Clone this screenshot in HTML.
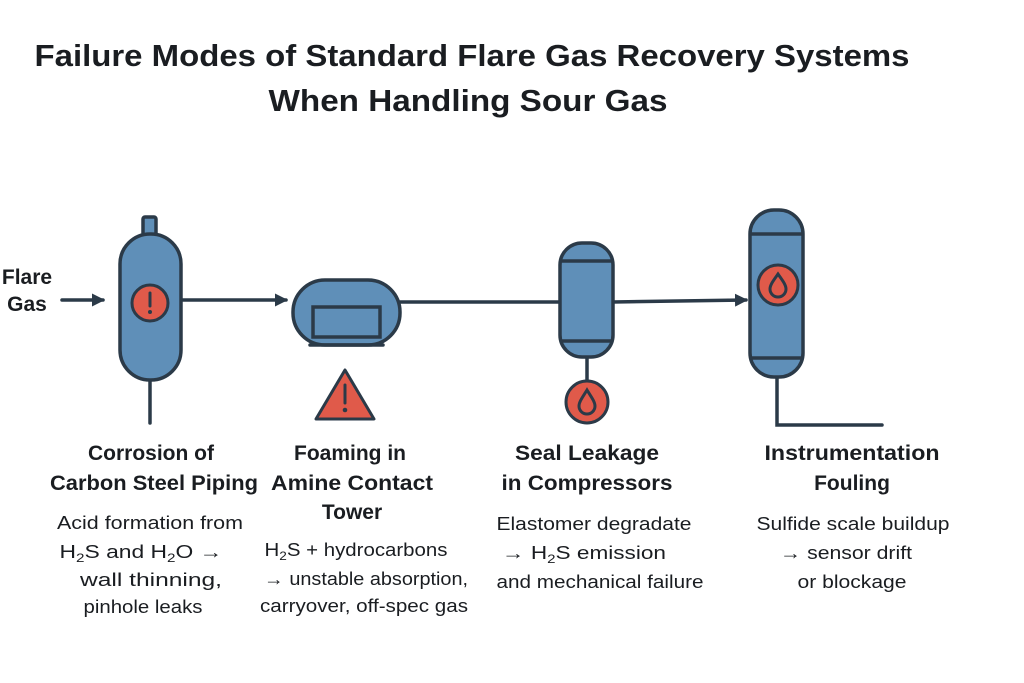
<!DOCTYPE html>
<html><head><meta charset="utf-8"><style>
html,body{margin:0;padding:0;background:#fff;}
svg{display:block;}
text{font-family:"Liberation Sans",sans-serif;fill:#1a1d21;}
.t{font-size:31px;font-weight:bold;}
.l{font-size:21px;font-weight:bold;}
.d{font-size:18px;}
</style></head><body>
<svg width="1024" height="683" viewBox="0 0 1024 683" xmlns="http://www.w3.org/2000/svg">
<defs>
<marker id="ah" markerWidth="13" markerHeight="13" refX="11" refY="6.5" orient="auto" markerUnits="userSpaceOnUse">
<path d="M0,0 L13,6.5 L0,13 Z" fill="#2b3a48"/></marker>
</defs>
<text class="t" x="472" y="66" text-anchor="middle" textLength="875" lengthAdjust="spacingAndGlyphs">Failure Modes of Standard Flare Gas Recovery Systems</text>
<text class="t" x="468" y="111" text-anchor="middle" textLength="399" lengthAdjust="spacingAndGlyphs">When Handling Sour Gas</text>

<g stroke="#2b3a48" stroke-width="3.5" fill="none" stroke-linecap="round">
<line x1="62" y1="300" x2="103" y2="300" marker-end="url(#ah)"/>
<line x1="181" y1="300" x2="286" y2="300" marker-end="url(#ah)"/>
<line x1="400" y1="302" x2="560" y2="302"/>
<line x1="613" y1="302" x2="746" y2="300" marker-end="url(#ah)"/>
<line x1="150" y1="380" x2="150" y2="423"/>
<line x1="587" y1="357" x2="587" y2="381"/>
<polyline points="777,377 777,425 882,425"/>
</g>

<g stroke="#2b3a48" stroke-width="3.5" fill="#5f8fb8">
<rect x="143" y="217" width="13" height="18" rx="2"/>
<rect x="120" y="234" width="61" height="146" rx="30"/>
<rect x="293" y="280" width="107" height="65" rx="32"/>
<rect x="313" y="307" width="67" height="30"/>
<rect x="560" y="243" width="53" height="114" rx="22"/>
<rect x="750" y="210" width="53" height="167" rx="24"/>
</g>
<g stroke="#2b3a48" stroke-width="3.5">
<line x1="310" y1="345" x2="383" y2="345" stroke-linecap="round"/>
<line x1="561" y1="261" x2="612" y2="261"/>
<line x1="561" y1="341" x2="612" y2="341"/>
<line x1="751" y1="234" x2="802" y2="234"/>
<line x1="751" y1="358" x2="802" y2="358"/>
</g>

<g stroke="#2b3a48" stroke-width="3" fill="#e05a4a">
<circle cx="150" cy="303" r="18"/>
<circle cx="587" cy="402" r="21"/>
<circle cx="778" cy="285" r="20"/>
<path d="M345,370 L374,419 L316,419 Z" stroke-linejoin="round"/>
</g>
<g stroke="#2b3a48" stroke-width="3" fill="none" stroke-linecap="round">
<line x1="150" y1="293" x2="150" y2="306"/>
<line x1="345" y1="385" x2="345" y2="403"/>
<path d="M587,390 C582,398 579,402 579,406 A8,8 0 0 0 595,406 C595,402 592,398 587,390 Z"/>
<path d="M778,274 C773,281 770,285 770,289 A8,8 0 0 0 786,289 C786,285 783,281 778,274 Z"/>
</g>
<circle cx="150" cy="312" r="2" fill="#2b3a48"/>
<circle cx="345" cy="410" r="2.3" fill="#2b3a48"/>

<text class="l" x="27" y="284" text-anchor="middle">Flare</text>
<text class="l" x="27" y="311" text-anchor="middle">Gas</text>

<g text-anchor="middle">
<text class="l" x="151" y="460">Corrosion of</text>
<text class="l" x="154" y="490" textLength="208" lengthAdjust="spacingAndGlyphs">Carbon Steel Piping</text>
<text class="d" x="150" y="529" textLength="186" lengthAdjust="spacingAndGlyphs">Acid formation from</text>
<text class="d" x="141" y="558" textLength="163" lengthAdjust="spacingAndGlyphs">H<tspan font-size="12" dy="4">2</tspan><tspan dy="-4">S and H</tspan><tspan font-size="12" dy="4">2</tspan><tspan dy="-4">O →</tspan></text>
<text class="d" x="151" y="586" textLength="142" lengthAdjust="spacingAndGlyphs">wall thinning,</text>
<text class="d" x="143" y="613" textLength="119" lengthAdjust="spacingAndGlyphs">pinhole leaks</text>

<text class="l" x="350" y="460">Foaming in</text>
<text class="l" x="352" y="490" textLength="162" lengthAdjust="spacingAndGlyphs">Amine Contact</text>
<text class="l" x="352" y="519">Tower</text>
<text class="d" x="356" y="556" textLength="183" lengthAdjust="spacingAndGlyphs">H<tspan font-size="12" dy="4">2</tspan><tspan dy="-4">S + hydrocarbons</tspan></text>
<text class="d" x="366" y="585" textLength="204" lengthAdjust="spacingAndGlyphs">→ unstable absorption,</text>
<text class="d" x="364" y="612" textLength="208" lengthAdjust="spacingAndGlyphs">carryover, off-spec gas</text>

<text class="l" x="587" y="460" textLength="144" lengthAdjust="spacingAndGlyphs">Seal Leakage</text>
<text class="l" x="587" y="490" textLength="171" lengthAdjust="spacingAndGlyphs">in Compressors</text>
<text class="d" x="594" y="530" textLength="195" lengthAdjust="spacingAndGlyphs">Elastomer degradate</text>
<text class="d" x="584" y="559" textLength="164" lengthAdjust="spacingAndGlyphs">→ H<tspan font-size="12" dy="4">2</tspan><tspan dy="-4">S emission</tspan></text>
<text class="d" x="600" y="588" textLength="207" lengthAdjust="spacingAndGlyphs">and mechanical failure</text>

<text class="l" x="852" y="460" textLength="175" lengthAdjust="spacingAndGlyphs">Instrumentation</text>
<text class="l" x="852" y="490">Fouling</text>
<text class="d" x="853" y="530" textLength="193" lengthAdjust="spacingAndGlyphs">Sulfide scale buildup</text>
<text class="d" x="846" y="559" textLength="132" lengthAdjust="spacingAndGlyphs">→ sensor drift</text>
<text class="d" x="852" y="588" textLength="109" lengthAdjust="spacingAndGlyphs">or blockage</text>
</g>
</svg>
</body></html>
